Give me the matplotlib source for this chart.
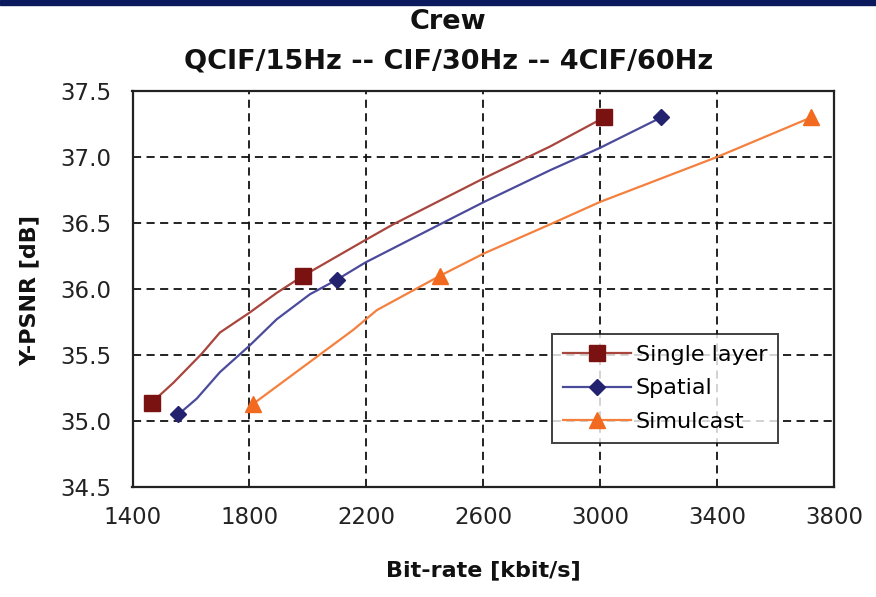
import matplotlib
matplotlib.use("Agg")
import matplotlib.pyplot as plt
from matplotlib.lines import Line2D
from matplotlib.patches import Rectangle

plt.rcParams['font.family'] = ['DejaVu Sans']

title = "Crew"
subtitle = "QCIF/15Hz -- CIF/30Hz -- 4CIF/60Hz"
xlabel = "Bit-rate [kbit/s]"
ylabel = "Y-PSNR [dB]"
xticks = [1400, 1800, 2200, 2600, 3000, 3400, 3800]
yticks = [34.5, 35.0, 35.5, 36.0, 36.5, 37.0, 37.5]

# curve points (markers only at the operating points)
single_x = [1466, 1540, 1637, 1699, 1800, 1893, 1984, 2196, 2292, 2603, 2829, 3014]
single_y = [35.14, 35.29, 35.51, 35.67, 35.82, 35.97, 36.10, 36.37, 36.49, 36.84, 37.08, 37.30]
single_marks = [0, 6, 11]

spatial_x = [1557, 1620, 1699, 1800, 1893, 2007, 2099, 2196, 2452, 2603, 2829, 3000, 3209]
spatial_y = [35.05, 35.17, 35.37, 35.57, 35.77, 35.96, 36.07, 36.20, 36.49, 36.66, 36.90, 37.07, 37.30]
spatial_marks = [0, 6, 12]

simul_x = [1813, 2155, 2236, 2452, 2603, 2829, 3000, 3400, 3722]
simul_y = [35.13, 35.69, 35.84, 36.10, 36.27, 36.49, 36.66, 37.00, 37.30]
simul_marks = [0, 3, 8]

W, H = 876, 597
fig = plt.figure(figsize=(W / 100, H / 100), dpi=100)
L, R, T, B = 132.5, 834, 91, 487
ax = fig.add_axes([L / W, 1 - B / H, (R - L) / W, (B - T) / H])

series = [
    ("Single layer", single_x, single_y, single_marks, "#A8453C", "#7A1212", "s", 12),
    ("Spatial", spatial_x, spatial_y, spatial_marks, "#4B4B9C", "#22226E", "D", 8.5),
    ("Simulcast", simul_x, simul_y, simul_marks, "#F5803E", "#F26A1F", "^", 11.5),
]
handles = []
for name, xs, ys, mk, lc, mc, m, ms in series:
    ax.plot(xs, ys, color=lc, lw=1.6, zorder=3, solid_joinstyle="round")
    ax.plot([xs[i] for i in mk], [ys[i] for i in mk], linestyle="none",
            marker=m, ms=ms, color=mc, zorder=4)
    handles.append(Line2D([0], [0], color=lc, lw=1.6, marker=m, ms=ms,
                          markerfacecolor=mc, markeredgecolor=mc))

ax.set_xlim(1400, 3800)
ax.set_ylim(34.5, 37.5)
ax.set_xticks(xticks)
ax.set_yticks(yticks)
ax.set_xticklabels([str(v) for v in xticks], fontsize=16.5, color="#222222")
ax.set_yticklabels([f"{v:.1f}" for v in yticks], fontsize=16.5, color="#222222")
ax.tick_params(axis='x', length=0, pad=14)
ax.tick_params(axis='y', length=0, pad=15)
ax.grid(True, color="#111111", linestyle=(0, (4.5, 3)), lw=1.3)
for s in ax.spines.values():
    s.set_color("#222222")
    s.set_linewidth(1.6)

fig.text(483 / W, 1 - 570 / H, xlabel, ha="center", va="center",
         fontsize=16, fontweight="bold", color="#111111")
fig.text(30 / W, 1 - 290 / H, ylabel, ha="center", va="center",
         fontsize=16, fontweight="bold", rotation=90, color="#111111")

leg = fig.legend(handles, [s[0] for s in series], loc="upper left",
                 bbox_to_anchor=(552 / W, 1 - 334 / H), borderaxespad=0,
                 fontsize=16, frameon=True, fancybox=False, edgecolor="#111111",
                 handlelength=3.05, borderpad=0.5, labelspacing=0.6,
                 handletextpad=0.22)
leg.get_frame().set_linewidth(1.4)
leg.set_zorder(5)

fig.text(448 / W, 1 - 22 / H, title, ha="center", va="center", fontsize=19.5,
         fontweight="bold", color="#111111")
fig.text(449 / W, 1 - 62 / H, subtitle, ha="center", va="center", fontsize=19.5,
         fontweight="bold", color="#111111")

fig.patches.append(Rectangle((0, 1 - 5 / H), 1, 5 / H, transform=fig.transFigure,
                             color="#0A1A5C", zorder=10))

fig.savefig("out.png", dpi=100)
